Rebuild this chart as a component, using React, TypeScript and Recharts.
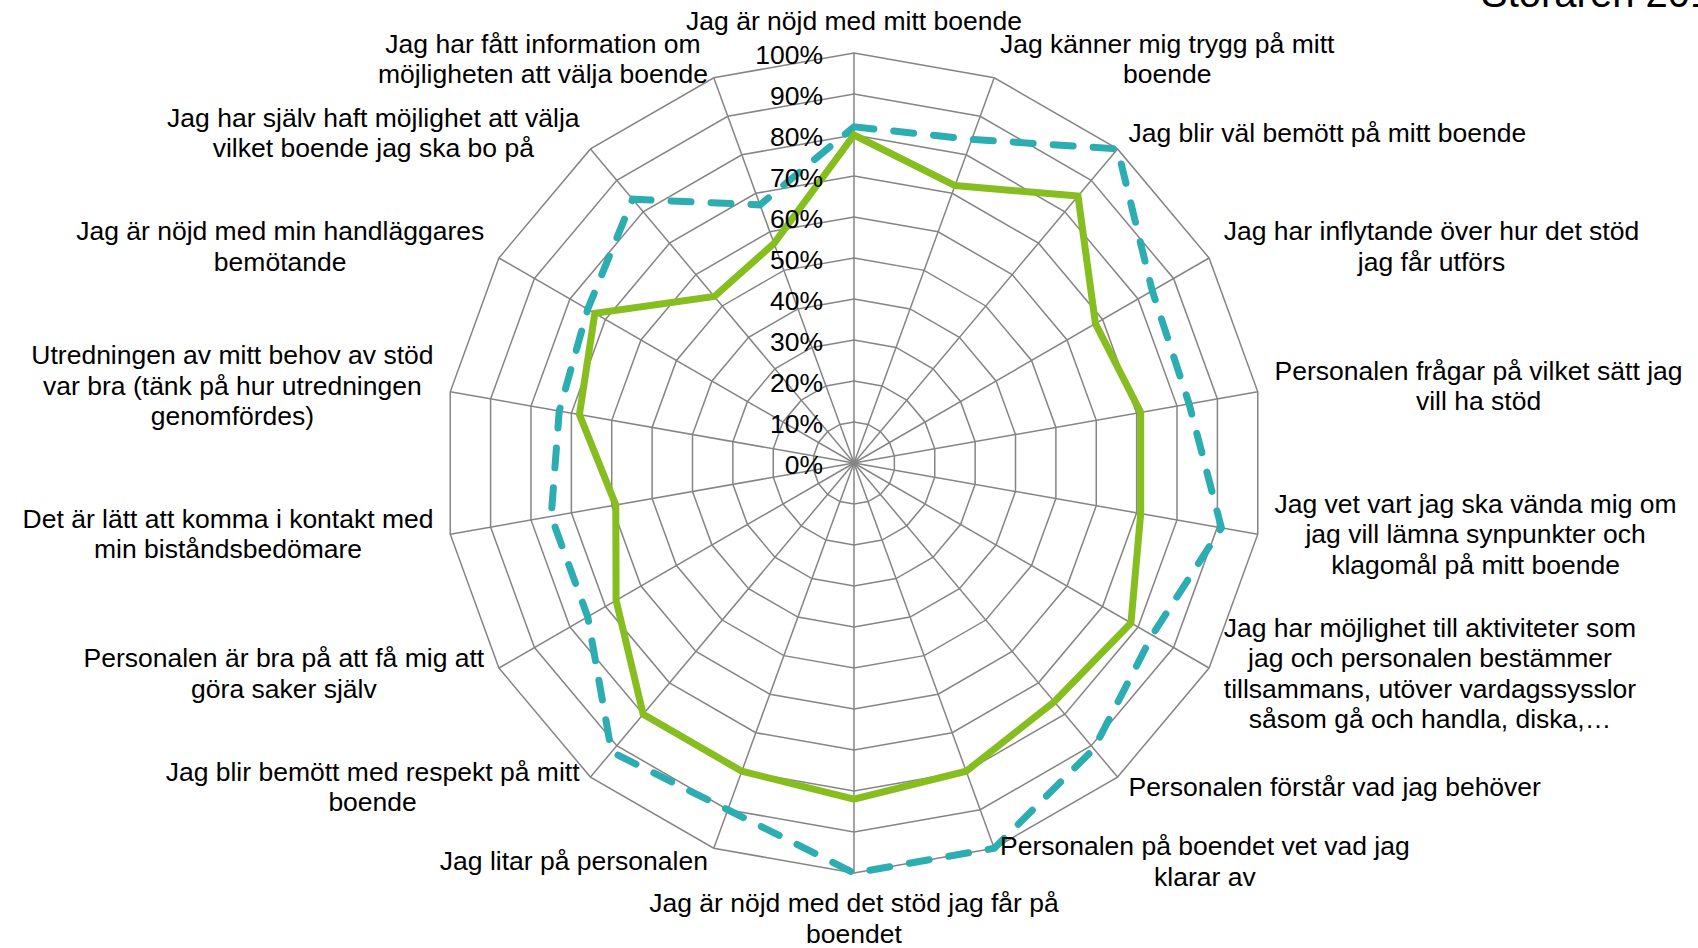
import React from "react";
import {
  RadarChart,
  Radar,
  PolarGrid,
  PolarAngleAxis,
  PolarRadiusAxis,
} from "recharts";

// Frågorna, medurs från toppen (radbrytningar som i originalet)
const categories = [
  "Jag är nöjd med mitt boende",
  "Jag känner mig trygg på mitt\nboende",
  "Jag blir väl bemött på mitt boende",
  "Jag har inflytande över hur det stöd\njag får utförs",
  "Personalen frågar på vilket sätt jag\nvill ha stöd",
  "Jag vet vart jag ska vända mig om\njag vill lämna synpunkter och\nklagomål på mitt boende",
  "Jag har möjlighet till aktiviteter som\njag och personalen bestämmer\ntillsammans, utöver vardagssysslor\nsåsom gå och handla, diska,…",
  "Personalen förstår vad jag behöver",
  "Personalen på boendet vet vad jag\nklarar av",
  "Jag är nöjd med det stöd jag får på\nboendet",
  "Jag litar på personalen",
  "Jag blir bemött med respekt på mitt\nboende",
  "Personalen är bra på att få mig att\ngöra saker själv",
  "Det är lätt att komma i kontakt med\nmin biståndsbedömare",
  "Utredningen av mitt behov av stöd\nvar bra (tänk på hur utredningen\ngenomfördes)",
  "Jag är nöjd med min handläggares\nbemötande",
  "Jag har själv haft möjlighet att välja\nvilket boende jag ska bo på",
  "Jag har fått information om\nmöjligheten att välja boende",
];

const greenValues = [80, 72, 85, 68, 71, 71, 78, 76, 80, 82, 80, 80, 67, 59, 68, 73, 53, 57];
const tealValues = [82, 84, 100, 84, 83, 91, 84, 91, 100, 100, 90, 92, 75, 75, 73, 75, 84, 67];

const radiusTicks = [0, 10, 20, 30, 40, 50, 60, 70, 80, 90, 100];

const data = categories.map((name, i) => ({
  name,
  green: greenValues[i],
  teal: tealValues[i],
}));

const W = 1698;
const H = 948;
const CX = 854;
const CY = 463;
const R = 410;
const FS = 26.5;
const LINE_H = 30.5;
const FONT = '"Liberation Sans", Arial, sans-serif';

let ctx: CanvasRenderingContext2D | null = null;
function textWidth(s: string) {
  if (!ctx) ctx = document.createElement("canvas").getContext("2d");
  if (!ctx) return s.length * FS * 0.5;
  ctx.font = `${FS}px ${FONT}`;
  return ctx.measureText(s).width;
}

function AngleTick(props: any) {
  const { payload } = props;
  const lines = String(payload.value).split("\n");
  const a = (payload.coordinate * Math.PI) / 180;
  const ux = Math.cos(a);
  const uy = -Math.sin(a);
  const px = CX + (R + 17) * ux;
  const py = CY + (R + 17) * uy;
  const w = Math.max(...lines.map(textWidth));
  const h = lines.length * LINE_H;
  let bx: number;
  let by: number;
  if (Math.abs(ux) < 0.05) {
    bx = px;
    by = uy < 0 ? py - h / 2 : py + h / 2 - 2;
  } else {
    bx = ux > 0 ? px + w / 2 : px - w / 2;
    by = py - 3;
  }
  return (
    <text textAnchor="middle" fontSize={FS} fontFamily={FONT} fill="#000">
      {lines.map((l, i) => (
        <tspan key={i} x={bx} y={by - h / 2 + LINE_H * (i + 0.5) + FS * 0.34}>
          {l}
        </tspan>
      ))}
    </text>
  );
}

function RadiusTick(props: any) {
  const { x, y, payload } = props;
  return (
    <text
      x={x - 31}
      y={y + 2 + FS * 0.34}
      textAnchor="end"
      fontSize={FS}
      fontFamily={FONT}
      fill="#000"
    >
      {payload.value}%
    </text>
  );
}

export default function App() {
  return (
    <div style={{ position: "absolute", left: 0, top: 0, width: W, height: H, background: "#fff" }}>
      <RadarChart
        width={W}
        height={H}
        data={data}
        cx={CX}
        cy={CY}
        outerRadius={R}
        startAngle={90}
        endAngle={-270}
        margin={{ top: 0, right: 0, bottom: 0, left: 0 }}
      >
        <PolarGrid gridType="polygon" stroke="#858585" strokeWidth={1.5} />
        <PolarAngleAxis
          dataKey="name"
          tick={AngleTick}
          tickLine={false}
          axisLine={false}
        />
        <PolarRadiusAxis
          angle={90}
          domain={[0, 100]}
          tickCount={radiusTicks.length}
          ticks={radiusTicks as any}
          tick={RadiusTick}
          axisLine={false}
          tickLine={false}
        />
        <Radar
          dataKey="teal"
          stroke="#2badb2"
          strokeWidth={7}
          strokeDasharray="20 20"
          strokeLinecap="round"
          fill="none"
          fillOpacity={0}
          dot={false}
          isAnimationActive={false}
        />
        <Radar
          dataKey="green"
          stroke="#86bd1f"
          strokeWidth={7}
          fill="none"
          fillOpacity={0}
          dot={false}
          isAnimationActive={false}
        />
      </RadarChart>
      <svg
        width={W}
        height={H}
        style={{ position: "absolute", left: 0, top: 0, pointerEvents: "none" }}
      >
        <text x={1481} y={7} fontSize={40} fontFamily={FONT} fill="#000">
          Störåren 2017
        </text>
      </svg>
    </div>
  );
}
